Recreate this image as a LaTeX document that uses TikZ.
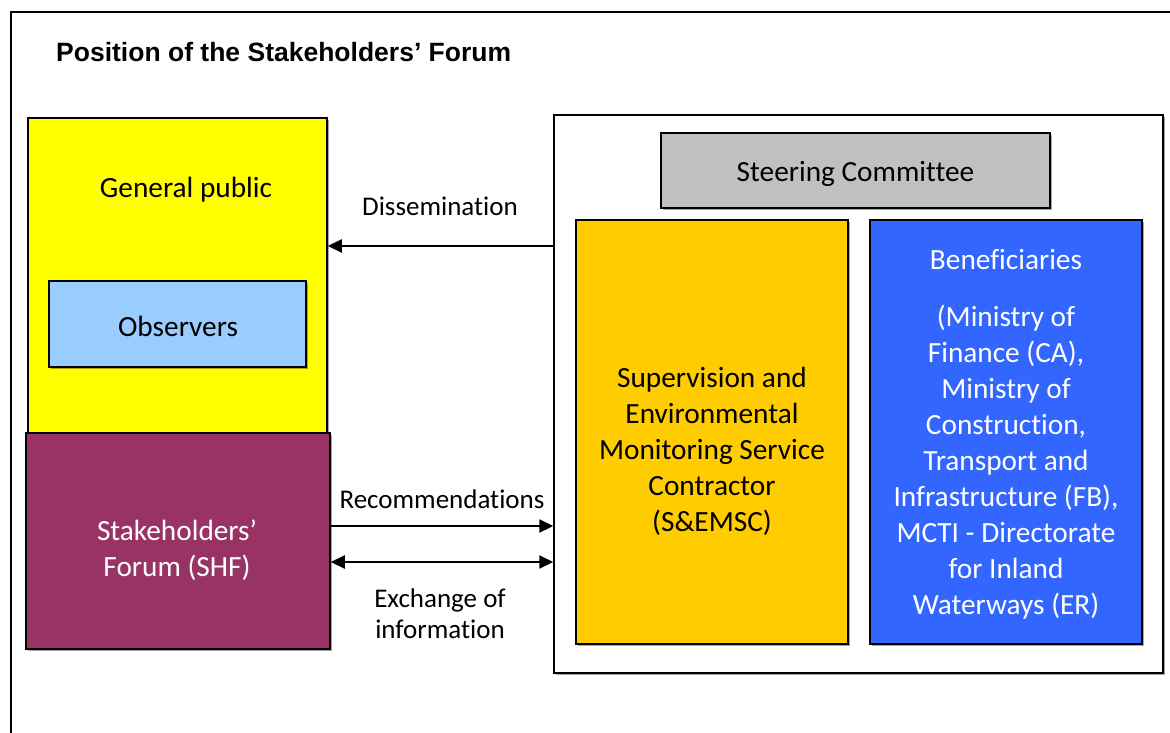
\documentclass[tikz,border=0pt]{standalone}
\usepackage{fontspec}
\setmainfont{Carlito}[Ligatures={NoCommon}]
\newfontfamily\titlefont{Liberation Sans}
\usetikzlibrary{arrows.meta,shadows}
\definecolor{gpyellow}{HTML}{FFFF00}
\definecolor{obsblue}{HTML}{99CCFF}
\definecolor{shfpurple}{HTML}{993366}
\definecolor{scgray}{HTML}{C0C0C0}
\definecolor{suporange}{HTML}{FFCC00}
\definecolor{benblue}{HTML}{3366FF}
\tikzset{
  box/.style={draw=black, line width=1.5pt, inner sep=0pt, rectangle,
    drop shadow={shadow xshift=1.8pt, shadow yshift=-1.8pt, fill=black, opacity=0.35}},
  lbl/.style={font=\fontsize{27}{36}\selectfont, align=center, inner sep=0pt},
  biglbl/.style={font=\fontsize{29.3}{36}\selectfont, align=center, inner sep=0pt},
  arr/.style={line width=2.2pt, -{Triangle[length=14pt,width=13pt]}},
  barr/.style={line width=2.2pt, {Triangle[length=14pt,width=13pt]}-{Triangle[length=14pt,width=13pt]}}
}
\begin{document}
\begin{tikzpicture}[x=1pt,y=-1pt]
\useasboundingbox (0,0) rectangle (1170,733);
% outer frame (runs off right and bottom)
\draw[line width=2pt] (10.5,745) -- (10.5,12) -- (1180,12);
\node[anchor=west, inner sep=0pt, font=\titlefont\bfseries\fontsize{26.5}{30}\selectfont] (title) at (56,52) {Position of the Stakeholders’ Forum};

% left column
\node[box, fill=gpyellow, minimum width=299pt, minimum height=315pt] (gp) at (177.5,275.5) {};
\node[box, fill=obsblue, minimum width=257pt, minimum height=86pt] (obs) at (177.5,324) {};
\node[box, fill=shfpurple, minimum width=304pt, minimum height=216pt] (shf) at (178,541) {};
\node[biglbl] (gpt) at (186,190) {General public};
\node[biglbl] (obst) at (178,326) {Observers};
\node[biglbl, text=white] (shft) at (177,550) {Stakeholders’\\Forum (SHF)};

% right container
\node[box, fill=white, minimum width=609pt, minimum height=558pt] (cont) at (858.5,394) {};
\node[box, fill=scgray, minimum width=389pt, minimum height=75pt] (sc) at (855.5,170.5) {};
\node[biglbl] (sct) at (855.5,174) {Steering Committee};
\node[box, fill=suporange, minimum width=272pt, minimum height=424pt] (sup) at (712,432) {};
\node[box, fill=benblue, minimum width=272pt, minimum height=424pt] (ben) at (1006,432) {};
\node[biglbl] (supt) at (712,451) {Supervision and\\Environmental\\Monitoring Service\\Contractor\\(S\&EMSC)};
\node[biglbl, text=white] (bent) at (1006,260) {Beneficiaries};
\node[biglbl, text=white] (bent2) at (1006,462) {(Ministry of\\Finance (CA),\\Ministry of\\Construction,\\Transport and\\Infrastructure (FB),\\MCTI - Directorate\\for Inland\\Waterways (ER)};

% connectors
\coordinate (ydis) at (0,246);
\coordinate (yrec) at (0,526);
\coordinate (yexc) at (0,562);
\draw[arr] (cont.west |- ydis) -- (gp.east |- ydis);
\draw[arr] (shf.east |- yrec) -- (cont.west |- yrec);
\draw[barr] (shf.east |- yexc) -- (cont.west |- yexc);
\node[lbl] (dist) at (440,206) {Dissemination};
\node[lbl] (rect) at (442,499) {Recommendations};
\node[lbl, font=\fontsize{27}{31}\selectfont] (exct) at (440,614) {Exchange of\\information};
\end{tikzpicture}
\end{document}
